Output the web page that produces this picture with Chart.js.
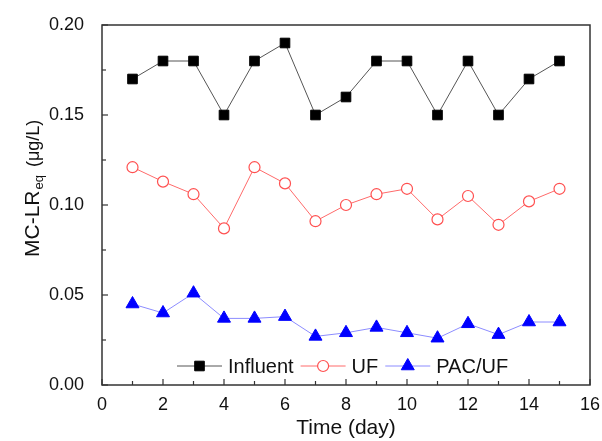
<!DOCTYPE html>
<html>
<head>
<meta charset="utf-8">
<script src="https://cdn.jsdelivr.net/npm/chart.js@4/dist/chart.umd.min.js"></script>
<style>
html,body{margin:0;padding:0;background:#fff;}
#wrap{width:602px;height:441px;position:relative;}
</style>
</head>
<body>
<div id="wrap"><canvas id="c" width="602" height="441"></canvas></div>
<script>
const days = [1,2,3,4,5,6,7,8,9,10,11,12,13,14,15];
const influent = [0.170,0.180,0.180,0.150,0.180,0.190,0.150,0.160,0.180,0.180,0.150,0.180,0.150,0.170,0.180];
const uf = [0.121,0.113,0.106,0.087,0.121,0.112,0.091,0.100,0.106,0.109,0.092,0.105,0.089,0.102,0.109];
const pacuf = [0.045,0.040,0.051,0.037,0.037,0.038,0.027,0.029,0.032,0.029,0.026,0.034,0.028,0.035,0.035];
const seriesNames = ["Influent","UF","PAC/UF"];
const xTicks = [0,2,4,6,8,10,12,14,16];
const yTicks = [0.00,0.05,0.10,0.15,0.20];
const xTitle = "Time (day)";
const yTitleMain = "MC-LR";
const yTitleSub = "eq";
const yTitleUnit = "(μg/L)";

const FONT = "'Liberation Sans', Arial, sans-serif";
const AX = '#333333';

function pts(arr){ return days.map((d,i)=>({x:d,y:arr[i]})); }

function drawMarker(ctx, ds, x, y){
  ctx.save();
  ctx.fillStyle = ds.pointBackgroundColor;
  ctx.strokeStyle = ds.pointBorderColor;
  ctx.lineWidth = ds.pointBorderWidth;
  Chart.helpers.drawPoint(ctx, {pointStyle: ds.pointStyle, radius: ds.pointRadius, borderWidth: ds.pointBorderWidth, rotation:0}, x, y);
  ctx.restore();
}

const frame = {
  id:'frame',
  afterDatasetsDraw(chart){
    const {ctx, chartArea:a, scales:{x,y}} = chart;
    ctx.save();
    ctx.strokeStyle = AX; ctx.lineWidth = 1.5;
    ctx.strokeRect(a.left, a.top, a.right-a.left, a.bottom-a.top);
    ctx.lineWidth = 1.2;
    for(let v=0; v<=16; v++){
      const px = x.getPixelForValue(v);
      const len = (v%2===0)?6:4;
      ctx.beginPath(); ctx.moveTo(px, a.bottom); ctx.lineTo(px, a.bottom-len); ctx.stroke();
    }
    for(let k=0;k<=8;k++){
      const py = y.getPixelForValue(k*0.025);
      const len = (k%2===0)?6:4;
      ctx.beginPath(); ctx.moveTo(a.left, py); ctx.lineTo(a.left+len, py); ctx.stroke();
    }
    ctx.restore();

    // y title with subscript, rotated, drawn from bottom upward
    ctx.save();
    ctx.fillStyle = '#111';
    ctx.translate(39, 257);
    ctx.rotate(-Math.PI/2);
    ctx.textBaseline = 'alphabetic';
    ctx.textAlign = 'left';
    ctx.font = '21px ' + FONT;
    const w1 = ctx.measureText(yTitleMain).width;
    ctx.fillText(yTitleMain, 0, 0);
    ctx.font = '13px ' + FONT;
    const w2 = ctx.measureText(yTitleSub).width;
    ctx.fillText(yTitleSub, w1 + 1, 4);
    ctx.font = '18px ' + FONT;
    ctx.fillText(yTitleUnit, w1 + 1 + w2 + 8, 0);
    ctx.restore();

    // legend
    ctx.save();
    ctx.font = '20px ' + FONT;
    ctx.textBaseline = 'middle';
    ctx.textAlign = 'left';
    let lx = 177; const ly = 366;
    chart.data.datasets.forEach((ds)=>{
      ctx.strokeStyle = ds.borderColor; ctx.lineWidth = 1;
      ctx.beginPath(); ctx.moveTo(lx, ly); ctx.lineTo(lx+45, ly); ctx.stroke();
      drawMarker(ctx, ds, lx+22.5, ly);
      ctx.fillStyle = '#111';
      ctx.fillText(ds.label, lx+51, ly+1);
      lx += 51 + ctx.measureText(ds.label).width + 7;
    });
    ctx.restore();
  }
};

new Chart(document.getElementById('c'), {
  type:'line',
  data:{
    datasets:[
      {label:seriesNames[0], data:pts(influent), borderColor:'#555555', borderWidth:1,
       pointStyle:'rect', pointRadius:6.8, pointBackgroundColor:'#000', pointBorderColor:'#000', pointBorderWidth:1},
      {label:seriesNames[1], data:pts(uf), borderColor:'#ff6a6a', borderWidth:1,
       pointStyle:'circle', pointRadius:5.5, pointBackgroundColor:'#fff', pointBorderColor:'#ff5050', pointBorderWidth:1.2},
      {label:seriesNames[2], data:pts(pacuf), borderColor:'#8c8cff', borderWidth:1,
       pointStyle:'triangle', pointRadius:7.5, pointBackgroundColor:'#0000ff', pointBorderColor:'#0000ff', pointBorderWidth:1}
    ]
  },
  options:{
    responsive:false, animation:false, devicePixelRatio:1,
    layout:{padding:{left:0, right:12, top:25, bottom:0}},
    plugins:{legend:{display:false}, tooltip:{enabled:false}},
    scales:{
      x:{type:'linear', min:0, max:16,
        afterBuildTicks(s){ s.ticks = xTicks.map(v=>({value:v})); },
        afterFit(s){ s.height = 56; s.paddingRight = 0; s.paddingLeft = 0; },
        grid:{display:false, drawTicks:false},
        border:{display:false},
        ticks:{padding:9, color:'#111', font:{family:FONT, size:18}, maxRotation:0, autoSkip:false},
        title:{display:true, text:xTitle, color:'#111', font:{family:FONT, size:21}, padding:{top:0,bottom:0}}
      },
      y:{type:'linear', min:0, max:0.2,
        afterBuildTicks(s){ s.ticks = yTicks.map(v=>({value:v})); },
        afterFit(s){ s.width = 102; s.paddingTop = 0; s.paddingBottom = 0; },
        grid:{display:false, drawTicks:false},
        border:{display:false},
        ticks:{padding:18, color:'#111', font:{family:FONT, size:18}, callback:v=>v.toFixed(2)}
      }
    }
  },
  plugins:[frame]
});
</script>
</body>
</html>
